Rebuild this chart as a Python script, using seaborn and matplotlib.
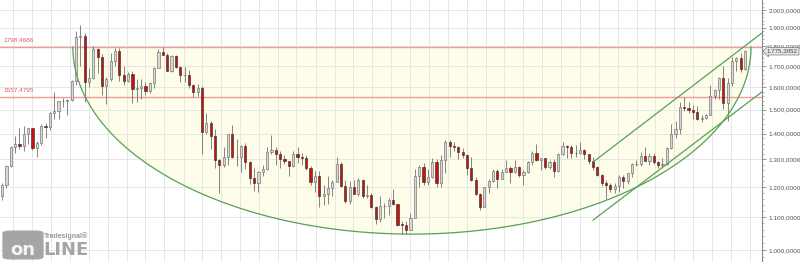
import numpy as np
import pandas as pd
import matplotlib
matplotlib.use("Agg")
import matplotlib.pyplot as plt
import matplotlib.dates as mdates
from matplotlib.ticker import FixedLocator, FuncFormatter, NullFormatter
from matplotlib.transforms import blended_transform_factory
from matplotlib.patches import FancyBboxPatch
import seaborn as sns

# ---------------- data (3-week candles) ----------------
start_date = "2010-08-08"
bar_days = 21
first_open = 1170

close = [1205, 1275, 1345, 1358, 1352, 1398, 1421, 1342, 1361, 1430,
         1428, 1487, 1492, 1536, 1539, 1542, 1628, 1852, 1858, 1624,
         1642, 1788, 1746, 1606, 1640, 1726, 1775, 1657, 1631, 1663,
         1591, 1595, 1605, 1584, 1620, 1692, 1773, 1758, 1677, 1752,
         1697, 1656, 1658, 1609, 1577, 1596, 1406, 1445, 1391, 1296,
         1277, 1310, 1396, 1308, 1310, 1352, 1288, 1232, 1213, 1254,
         1263, 1326, 1336, 1318, 1302, 1292, 1274, 1320, 1307, 1305,
         1268, 1218, 1238, 1170, 1175, 1196, 1216, 1283, 1204, 1152,
         1201, 1177, 1225, 1168, 1172, 1131, 1094, 1134, 1137, 1156,
         1141, 1076, 1075, 1061, 1097, 1239, 1271, 1217, 1235, 1290,
         1213, 1298, 1366, 1350, 1345, 1327, 1316, 1267, 1225, 1177,
         1132, 1198, 1220, 1257, 1229, 1253, 1268, 1254, 1271, 1241,
         1254, 1290, 1325, 1297, 1304, 1270, 1288, 1256, 1320, 1349,
         1347, 1324, 1323, 1336, 1318, 1293, 1270, 1241, 1214, 1206,
         1193, 1203, 1233, 1222, 1248, 1281, 1282, 1313, 1294, 1312,
         1291, 1280, 1283, 1341, 1398, 1419, 1513, 1507, 1497, 1490,
         1462, 1464, 1478, 1562, 1589, 1643, 1530, 1620, 1728, 1743,
         1685, 1775.3052]

high = [1215, 1280, 1350, 1388, 1424, 1431, 1424, 1422, 1370, 1437,
        1445, 1488, 1577, 1538, 1553, 1545, 1632, 1880, 1913, 1870,
        1690, 1804, 1790, 1763, 1650, 1764, 1790, 1791, 1700, 1670,
        1676, 1641, 1641, 1625, 1626, 1695, 1786, 1796, 1765, 1754,
        1755, 1700, 1696, 1684, 1617, 1617, 1605, 1487, 1450, 1418,
        1300, 1348, 1398, 1434, 1376, 1355, 1361, 1295, 1267, 1255,
        1280, 1345, 1392, 1345, 1331, 1315, 1295, 1332, 1345, 1322,
        1315, 1275, 1255, 1255, 1208, 1238, 1225, 1307, 1290, 1223,
        1220, 1224, 1232, 1226, 1205, 1180, 1135, 1170, 1147, 1162,
        1192, 1142, 1088, 1088, 1112, 1263, 1280, 1287, 1262, 1304,
        1300, 1315, 1375, 1375, 1367, 1352, 1343, 1318, 1308, 1235,
        1178, 1200, 1226, 1263, 1264, 1262, 1296, 1275, 1296, 1275,
        1259, 1292, 1330, 1357, 1306, 1306, 1298, 1300, 1325, 1366,
        1356, 1355, 1356, 1366, 1340, 1320, 1310, 1275, 1245, 1223,
        1215, 1214, 1243, 1243, 1250, 1285, 1298, 1326, 1346, 1324,
        1324, 1295, 1304, 1348, 1439, 1452, 1534, 1557, 1535, 1519,
        1517, 1478, 1483, 1611, 1590, 1649, 1703, 1645, 1747, 1748,
        1765, 1780]

low = [1157, 1195, 1272, 1325, 1340, 1330, 1360, 1335, 1308, 1355,
       1383, 1413, 1462, 1462, 1510, 1478, 1540, 1610, 1702, 1532,
       1602, 1640, 1667, 1564, 1523, 1628, 1703, 1627, 1612, 1626,
       1527, 1532, 1546, 1563, 1575, 1598, 1690, 1755, 1675, 1672,
       1692, 1625, 1625, 1597, 1554, 1562, 1321, 1400, 1338, 1269,
       1180, 1271, 1278, 1306, 1276, 1251, 1262, 1211, 1187, 1182,
       1238, 1259, 1320, 1277, 1268, 1283, 1240, 1270, 1286, 1280,
       1260, 1207, 1183, 1132, 1140, 1142, 1170, 1216, 1198, 1147,
       1142, 1175, 1170, 1162, 1162, 1130, 1077, 1085, 1098, 1105,
       1140, 1072, 1046, 1046, 1058, 1096, 1200, 1208, 1206, 1230,
       1200, 1200, 1250, 1310, 1332, 1302, 1306, 1241, 1221, 1171,
       1123, 1131, 1180, 1218, 1195, 1228, 1252, 1214, 1250, 1236,
       1205, 1250, 1280, 1292, 1261, 1262, 1265, 1236, 1254, 1316,
       1306, 1303, 1307, 1321, 1302, 1282, 1260, 1237, 1204, 1160,
       1184, 1180, 1182, 1196, 1211, 1235, 1276, 1276, 1292, 1280,
       1281, 1266, 1268, 1280, 1340, 1382, 1400, 1492, 1485, 1459,
       1456, 1446, 1458, 1477, 1546, 1547, 1504, 1451, 1605, 1676,
       1671, 1680]

# drawn levels / annotations
rim_price = 1798.4686
support_price = 1557.4795
last_price = 1775.3052
cup_left_date, cup_right_date = "2011-07-16", "2020-07-06"
cup_bottom_price = 1047
chan_dates = ["2018-06-03", "2020-08-28"]
chan_upper = [1289, 1872]
chan_lower = [1090, 1579]
y_ticks = [1000, 1100, 1200, 1300, 1400, 1500, 1600, 1700, 1800, 1900, 2000]
x_range = ("2010-07-29", "2020-08-28")
y_range = (966, 2058.6)

# ---------------- build frame ----------------
dates = pd.date_range(start_date, periods=len(close), freq=f"{bar_days}D")
opens = [first_open] + close[:-1]
df = pd.DataFrame({"date": dates, "open": opens, "high": high, "low": low, "close": close})
df["up"] = df["close"] >= df["open"]

sns.set_theme(style="white")
plt.rcParams["font.family"] = ["Liberation Sans", "DejaVu Sans"]

fig = plt.figure(figsize=(8.0, 2.62), dpi=100)
ax = fig.add_axes([0.0, 0.0, 762 / 800, 1.0])
ax.set_yscale("log")

# cup (half ellipse in log space)
x0 = mdates.date2num(pd.Timestamp(cup_left_date))
x1 = mdates.date2num(pd.Timestamp(cup_right_date))
cx, rx = (x0 + x1) / 2, (x1 - x0) / 2
cy = np.log10(rim_price)
ry = cy - np.log10(cup_bottom_price)
th = np.linspace(np.pi, 2 * np.pi, 400)
arc_x = cx + rx * np.cos(th)
arc_y = 10 ** (cy + ry * np.sin(th))
arc = pd.DataFrame({"date": mdates.num2date(arc_x), "price": arc_y})
arc["date"] = arc["date"].dt.tz_localize(None)
ax.fill_between(arc["date"], arc["price"], rim_price, color="#fdfdea", lw=0, zorder=0.2)

ax.grid(True, which="major", color="#e6e6e6", lw=0.7, zorder=0.3)
ax.set_axisbelow(True)

# horizontal levels
for lvl in (rim_price, support_price):
    ax.axhline(lvl, color="#f29a9a", lw=1.0, zorder=1)
tr = blended_transform_factory(ax.transAxes, ax.transData)
ax.text(0.004, rim_price * 1.012, "1798,4686", transform=tr, fontsize=4.6,
        color="#e05a5a", va="bottom", ha="left")
ax.text(0.004, support_price * 1.012, "1557,4795", transform=tr, fontsize=4.6,
        color="#e05a5a", va="bottom", ha="left")

# candles
ax.vlines(df["date"], df["low"], df["high"], color="#707070", lw=0.6, zorder=2)
body_lo = df[["open", "close"]].min(axis=1)
body_h = (df["close"] - df["open"]).abs().clip(lower=1.5)
up = df["up"]
ax.bar(df["date"][up], body_h[up], bottom=body_lo[up], width=bar_days * 0.5,
       color="#d8d8d8", edgecolor="#606060", linewidth=0.4, zorder=3)
ax.bar(df["date"][~up], body_h[~up], bottom=body_lo[~up], width=bar_days * 0.5,
       color="#cc1010", edgecolor="#222222", linewidth=0.4, zorder=3)

# cup arc and channel lines
green = "#58a058"
sns.lineplot(data=arc, x="date", y="price", ax=ax, color=green, lw=0.9, sort=False, zorder=4)
chan = pd.DataFrame({"date": pd.to_datetime(chan_dates), "upper": chan_upper, "lower": chan_lower})
sns.lineplot(data=chan, x="date", y="upper", ax=ax, color=green, lw=0.9, zorder=4)
sns.lineplot(data=chan, x="date", y="lower", ax=ax, color=green, lw=0.9, zorder=4)

# axes setup
ax.set_xlim(pd.Timestamp(x_range[0]), pd.Timestamp(x_range[1]))
ax.set_ylim(*y_range)
ax.set_xlabel("")
ax.set_ylabel("")
ax.xaxis.set_major_locator(mdates.MonthLocator(bymonth=[1, 4, 7, 10]))
ax.xaxis.set_major_formatter(NullFormatter())
ax.tick_params(axis="x", length=0)


def de_fmt(v, pos=None):
    s = f"{v:,.4f}"
    return s.replace(",", "X").replace(".", ",").replace("X", ".")


ax.yaxis.set_major_locator(FixedLocator(y_ticks))
ax.yaxis.set_major_formatter(FuncFormatter(de_fmt))
ax.yaxis.set_minor_locator(FixedLocator([v for v in range(980, 2060, 20) if v % 100]))
ax.yaxis.set_minor_formatter(NullFormatter())
ax.yaxis.tick_right()
ax.tick_params(axis="y", which="major", direction="out", length=3, width=0.6,
               color="#888888", labelsize=4.6, labelcolor="#555555", pad=2)
ax.tick_params(axis="y", which="minor", direction="out", length=1.6, width=0.5,
               color="#999999")
for s in ("top", "left", "bottom"):
    ax.spines[s].set_visible(False)
ax.spines["right"].set_color("#8a8a8a")
ax.spines["right"].set_linewidth(0.8)

# last price marker
ax.annotate(de_fmt(last_price), xy=(1.0, last_price), xycoords=tr,
            xytext=(3.5, 0), textcoords="offset points", fontsize=4.4, color="#444444",
            va="center", ha="left",
            bbox=dict(boxstyle="larrow,pad=0.2", fc="#e6e6e6", ec="#777777", lw=0.5),
            annotation_clip=False)

# watermark logo
logo = FancyBboxPatch((4 / 800, 3 / 262), 38 / 800, 28 / 262,
                      boxstyle="round,pad=0.002,rounding_size=0.01",
                      transform=fig.transFigure, fc="#a5a5a5", ec="none", zorder=1)
fig.patches.append(logo)
fig.text(23 / 800, 3 / 262, "on", fontsize=13, fontweight="bold", color="#f4f4f4",
         ha="center", va="bottom", family="DejaVu Sans", zorder=11)
fig.text(43 / 800, 3 / 262, "LINE", fontsize=13, fontweight="bold", color="#a5a5a5",
         ha="left", va="bottom", family="DejaVu Sans", zorder=11)
fig.text(44 / 800, 22 / 262, "Tradesignal\u00ae", fontsize=5, fontweight="bold",
         color="#9a9a9a", ha="left", va="bottom", zorder=11)

fig.savefig("out.png", dpi=100)
